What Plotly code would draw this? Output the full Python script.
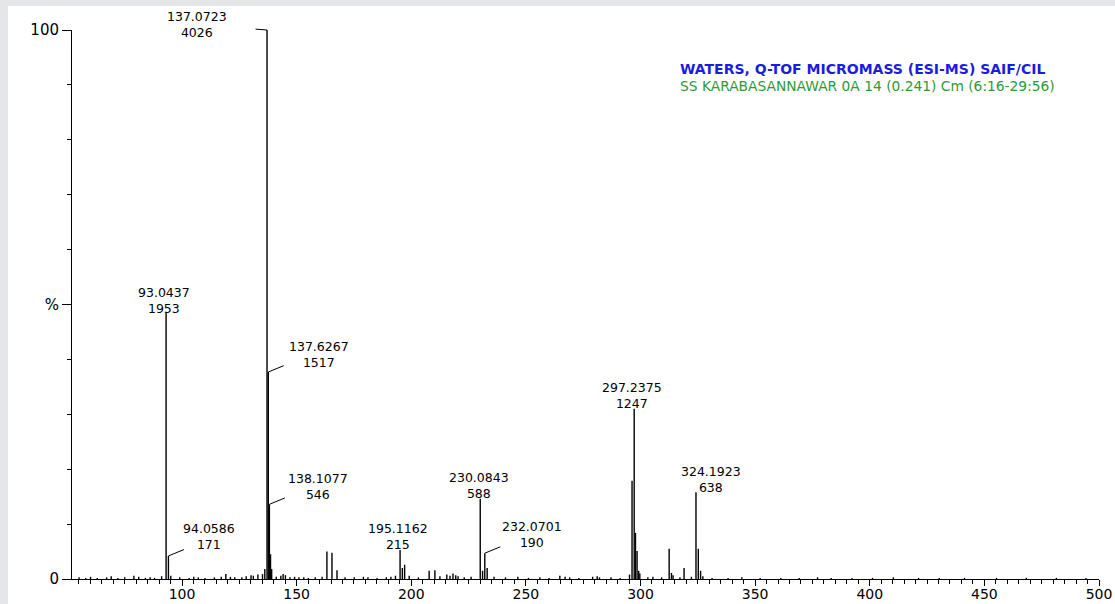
import plotly.graph_objects as go

# ---------------- data ----------------
peak_mz = [55.1, 58.0, 60.1, 63.0, 67.1, 69.1, 72.0, 75.0, 79.0, 81.1, 84.0, 86.1, 88.0, 91.1,
           93.0437, 94.0586, 95.1, 99.0, 103.1, 105.1, 107.1, 110.0, 114.1, 117.1, 119.1, 121.1,
           123.0, 126.1, 128.0, 130.1, 131.1, 133.1, 135.1, 136.1, 137.0723, 137.6267, 138.1077,
           138.6, 139.1, 141.1, 143.1, 144.1, 145.1, 147.1, 149.1, 151.0, 153.1, 155.1, 158.1,
           161.1, 163.2, 165.4, 167.6, 171.1, 175.1, 179.1, 181.1, 185.1, 189.1, 191.1, 193.1,
           195.1162, 196.1, 197.1, 199.1, 203.1, 207.8, 210.3, 212.5, 215.5, 216.9, 218.2, 219.4,
           220.4, 223.1, 226.1, 230.0843, 231.1, 232.0701, 233.1, 236.1, 241.1, 246.5, 251.1,
           256.1, 260.1, 264.8, 267.1, 269.1, 273.1, 279.1, 281.1, 282.1, 287.1, 291.1, 295.2,
           296.3, 297.2375, 297.8, 298.5, 299.2, 299.7, 303.2, 305.4, 309.2, 312.5, 313.5, 314.2,
           317.2, 319.0, 322.2, 324.1923, 325.2, 326.2, 327.2, 331.2, 338.2, 344.2, 352.2, 361.2,
           369.2, 377.2, 383.2, 392.3, 401.2, 410.3, 421.3, 430.3, 441.3, 455.3, 468.3, 481.4, 494.3]
peak_rel = [0.3, 0.2, 0.4, 0.2, 0.3, 0.5, 0.2, 0.3, 0.6, 0.4, 0.2, 0.3, 0.2, 0.5,
            48.5, 4.2, 0.6, 0.3, 0.2, 0.4, 0.3, 0.2, 0.3, 0.4, 0.9, 0.4,
            0.3, 0.3, 0.5, 0.7, 0.6, 0.8, 0.9, 1.8, 100.0, 37.7, 13.6,
            4.5, 1.8, 0.4, 0.6, 0.9, 0.7, 0.3, 0.4, 0.3, 0.3, 0.2, 0.3,
            0.4, 5.0, 4.8, 1.6, 0.3, 0.3, 0.4, 0.3, 0.2, 0.3, 0.4, 0.6,
            5.3, 2.0, 2.6, 0.6, 0.3, 1.5, 1.6, 0.5, 0.8, 0.6, 1.0, 0.7,
            0.5, 0.3, 0.4, 14.6, 1.5, 4.7, 2.0, 0.4, 0.3, 0.4, 0.2,
            0.3, 0.2, 0.6, 0.4, 0.3, 0.2, 0.4, 0.5, 0.3, 0.3, 0.2, 0.8,
            17.9, 31.0, 8.4, 5.1, 1.5, 1.0, 0.3, 0.4, 0.3, 5.5, 1.1, 0.7,
            0.3, 2.0, 0.4, 15.8, 5.5, 1.5, 0.5, 0.2, 0.2, 0.3, 0.2, 0.2,
            0.2, 0.3, 0.2, 0.2, 0.2, 0.3, 0.2, 0.2, 0.2, 0.2, 0.2, 0.2, 0.2]

label_mz = ["93.0437", "94.0586", "137.0723", "137.6267", "138.1077",
            "195.1162", "230.0843", "232.0701", "297.2375", "324.1923"]
label_counts = ["1953", "171", "4026", "1517", "546", "215", "588", "190", "1247", "638"]

x_tick_vals = [100, 150, 200, 250, 300, 350, 400, 450, 500]
y_tick_vals = [0, 50, 100]
y_tick_text = ["0", "%", "100"]

title_line1 = "WATERS, Q-TOF MICROMASS (ESI-MS) SAIF/CIL"
title_line2 = "SS KARABASANNAWAR 0A 14 (0.241) Cm (6:16-29:56)"

# ---------------- styling (pixel offsets for labels) ----------------
# (xshift of label, label-centre height above peak top, leader (dx, dy) or None)
label_style = {
    "93.0437": (-2, 12, None),
    "94.0586": (41, 19, (17, -7)),
    "137.0723": (-70, 6, (-13, -1)),
    "137.6267": (51, 18, (17, -7)),
    "138.1077": (49, 18, (17, -7)),
    "195.1162": (-2, 13, None),
    "230.0843": (-1, 13, None),
    "232.0701": (47, 19, (17, -7)),
    "297.2375": (-2, 13, None),
    "324.1923": (15, 13, None),
}

W, H = 1115, 604
L, R, T, B = 72, 16, 30, 25
PW, PH = W - L - R, H - T - B
FONT = "DejaVu Sans"

fig = go.Figure()

xs, ys = [], []
for m, r in zip(peak_mz, peak_rel):
    xs += [m, m, None]
    ys += [0, r, None]
fig.add_trace(go.Scatter(x=xs, y=ys, mode="lines",
                         line=dict(color="black", width=1.4),
                         hoverinfo="skip", showlegend=False))

rel_of = {m: r for m, r in zip(peak_mz, peak_rel)}
annotations = []
for lab, cnt in zip(label_mz, label_counts):
    m = float(lab)
    h = rel_of[m]
    xsft, up, leader = label_style[lab]
    annotations.append(dict(x=m, y=h, xref="x", yref="y", text=lab + "<br>" + cnt,
                            showarrow=False, align="center",
                            xanchor="center", yanchor="middle", xshift=xsft, yshift=up,
                            borderpad=0,
                            font=dict(family=FONT, size=12.5, color="black")))
    if leader is not None:
        annotations.append(dict(x=m, y=h, xref="x", yref="y", text="", showarrow=True,
                                arrowhead=0, arrowwidth=1, arrowcolor="black",
                                ax=leader[0], ay=leader[1], standoff=0, startstandoff=0))

annotations.append(dict(x=(678 - L) / PW, y=(H - B - 69) / PH, xref="paper", yref="paper",
                        text="<b>" + title_line1 + "</b>", showarrow=False,
                        xanchor="left", yanchor="middle",
                        font=dict(family=FONT, size=14, color="#1c1ce0")))
annotations.append(dict(x=(678 - L) / PW, y=(H - B - 86) / PH, xref="paper", yref="paper",
                        text=title_line2, showarrow=False,
                        xanchor="left", yanchor="middle",
                        font=dict(family=FONT, size=13.8, color="#2e9a36")))

frame = "#e5e6e8"
shapes = [
    dict(type="rect", xref="paper", yref="paper", x0=-L / PW, x1=(8 - L) / PW,
         y0=-B / PH, y1=(H - B) / PH, fillcolor=frame, line=dict(width=0), layer="below"),
    dict(type="rect", xref="paper", yref="paper", x0=-L / PW, x1=(W - L) / PW,
         y0=(H - B - 6) / PH, y1=(H - B) / PH, fillcolor=frame, line=dict(width=0), layer="below"),
]

fig.update_layout(
    width=W, height=H,
    margin=dict(l=L, r=R, t=T, b=B, pad=0),
    paper_bgcolor="white", plot_bgcolor="white",
    showlegend=False,
    annotations=annotations,
    shapes=shapes,
    xaxis=dict(range=[52, 500], showline=True, linecolor="black", linewidth=1,
               ticks="outside", ticklen=6, tickwidth=1, tickcolor="black",
               tickvals=x_tick_vals, showgrid=False, zeroline=False, automargin=False,
               tickfont=dict(family=FONT, size=14, color="black"),
               ticklabelstandoff=-4,
               minor=dict(ticks="outside", ticklen=4, dtick=5, tick0=0,
                          tickcolor="black", tickwidth=1, showgrid=False)),
    yaxis=dict(range=[0, 100], showline=True, linecolor="black", linewidth=1,
               ticks="outside", ticklen=9, tickwidth=1, tickcolor="black",
               tickvals=y_tick_vals, ticktext=y_tick_text,
               showgrid=False, zeroline=False, automargin=False,
               tickfont=dict(family=FONT, size=15, color="black"),
               minor=dict(ticks="outside", ticklen=4, dtick=10, tick0=0,
                          tickcolor="black", tickwidth=1, showgrid=False)),
)

fig.write_html("out.html", config={"displayModeBar": False},
               post_script="document.body.style.margin='0';document.body.style.overflow='hidden';")
